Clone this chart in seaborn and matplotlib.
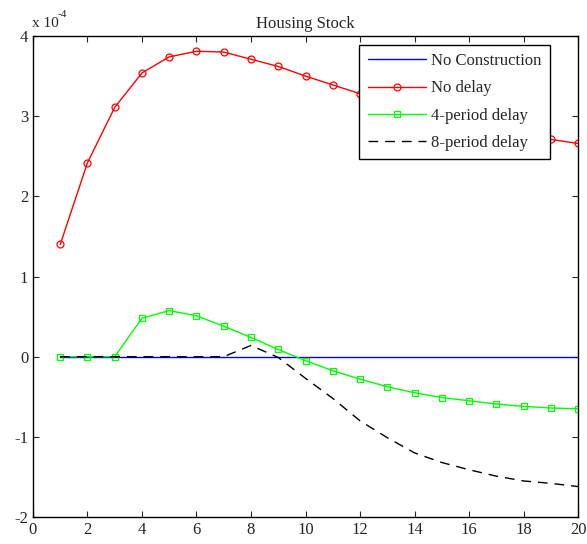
import pandas as pd
import seaborn as sns
import matplotlib.pyplot as plt

# Periods and series values (units of 1e-4)
periods = list(range(1, 21))
no_construction = [0.0] * 20
no_delay = [1.40, 2.42, 3.11, 3.54, 3.74, 3.81, 3.80, 3.71, 3.62, 3.50,
            3.39, 3.28, 3.18, 3.08, 2.99, 2.91, 2.83, 2.77, 2.71, 2.66]
delay4 = [0.0, 0.0, 0.0, 0.48, 0.575, 0.51, 0.38, 0.24, 0.09, -0.05,
          -0.175, -0.28, -0.375, -0.45, -0.51, -0.55, -0.59, -0.62, -0.64, -0.65]
delay8 = [0.0, 0.0, 0.0, 0.0, 0.0, 0.0, 0.0, 0.14, -0.01, -0.27,
          -0.52, -0.80, -1.01, -1.20, -1.32, -1.41, -1.49, -1.55, -1.58, -1.62]

df = pd.DataFrame({'period': periods, 'none': no_construction, 'nodelay': no_delay,
                   'd4': delay4, 'd8': delay8})

sns.set_style('ticks')
plt.rcParams['font.family'] = ['Liberation Serif', 'DejaVu Serif']
plt.rcParams['axes.unicode_minus'] = False

fig = plt.figure(figsize=(5.87, 5.44), dpi=100)
ax = fig.add_axes([0.0562, 0.0496, 0.9285, 0.8842])

sns.lineplot(data=df, x='period', y='none', ax=ax, color='blue', lw=1,
             label='No Construction')
sns.lineplot(data=df, x='period', y='nodelay', ax=ax, color='red', lw=1,
             marker='o', markersize=5, markerfacecolor='none',
             markeredgecolor='red', markeredgewidth=0.9, label='No delay')
sns.lineplot(data=df, x='period', y='d4', ax=ax, color='#00ff00', lw=1,
             marker='s', markersize=5, markerfacecolor='none',
             markeredgecolor='#00ff00', markeredgewidth=0.9, label='4-period delay')
sns.lineplot(data=df, x='period', y='d8', ax=ax, color='black', lw=1,
             dashes=(7, 5), label='8-period delay')

ax.set_xlim(0, 20)
ax.set_ylim(-2, 4)
ax.set_xticks(range(0, 21, 2))
ax.set_yticks(range(-2, 5))
ax.tick_params(direction='in', top=True, right=True, labelsize=12, length=4)
for s in ax.spines.values():
    s.set_linewidth(1)
    s.set_color('black')
ax.set_xlabel('')
ax.set_ylabel('')
ax.set_title('Housing Stock', fontsize=12, pad=6)
ax.text(-0.002, 1.012, 'x 10', transform=ax.transAxes, fontsize=11,
        ha='left', va='bottom')
ax.text(0.046, 1.035, '-4', transform=ax.transAxes, fontsize=8,
        ha='left', va='bottom')

leg = ax.legend(loc='upper right', bbox_to_anchor=(0.948, 0.982), fontsize=12,
                frameon=True, fancybox=False, framealpha=1, handlelength=3.5,
                borderpad=0.5, labelspacing=0.68, handletextpad=0.3,
                borderaxespad=0)
leg.get_frame().set_edgecolor('black')
leg.get_frame().set_linewidth(1)

fig.savefig('out.png', dpi=100)
